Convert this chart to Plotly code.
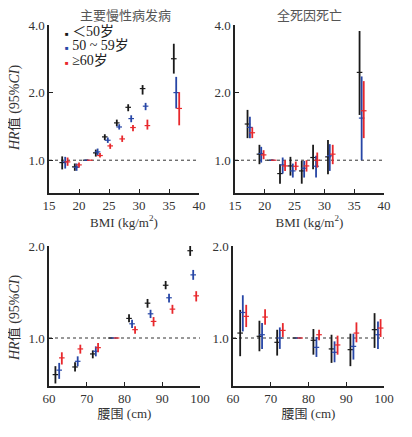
import plotly.graph_objects as go

# page body has an 8px margin -> draw on a 396x421 canvas and shift reference pixels by 8
W, H = 412, 437
OFF = 8
FW, FH = W - 2 * OFF, H - 2 * OFF

# ---------------- data ----------------
groups = ["＜50岁", "50 ~ 59岁", "≥60岁"]
colors = ["#1a1a1a", "#2746a6", "#e8282c"]

# BMI – major chronic disease incidence
cd_bmi_x = [
    [17.2, 19.3, 21.1, 22.8, 24.3, 26.3, 28.2, 30.6, 35.8],
    [17.7, 19.6, 21.3, 23.1, 24.8, 26.7, 28.7, 31.1, 36.2],
    [18.1, 20.0, 21.8, 23.5, 25.2, 27.2, 29.0, 31.4, 36.7],
]
cd_bmi_hr = [
    [0.976, 0.934, 1.0, 1.078, 1.27, 1.466, 1.72, 2.084, 2.83],
    [0.983, 0.930, 1.0, 1.089, 1.227, 1.406, 1.532, 1.74, 2.0],
    [0.983, 0.953, 1.0, 1.049, 1.158, 1.244, 1.398, 1.426, 1.70],
]
cd_bmi_lo = [
    [0.91, 0.897, 1.0, 1.038, 1.227, 1.416, 1.652, 1.96, 2.43],
    [0.918, 0.897, 1.0, 1.052, 1.194, 1.369, 1.476, 1.67, 1.70],
    [0.944, 0.928, 1.0, 1.028, 1.123, 1.206, 1.346, 1.369, 1.43],
]
cd_bmi_hi = [
    [1.04, 0.967, 1.0, 1.115, 1.305, 1.516, 1.775, 2.16, 3.3],
    [1.035, 0.967, 1.0, 1.127, 1.262, 1.446, 1.585, 1.80, 2.35],
    [1.028, 0.976, 1.0, 1.078, 1.186, 1.288, 1.436, 1.516, 2.01],
]

# BMI – all-cause death
dt_bmi_x = [
    [17.1, 19.1, 20.9, 22.55, 24.3, 26.2, 28.1, 30.6, 35.9],
    [17.5, 19.4, 21.2, 23.0, 24.7, 26.6, 28.6, 30.9, 36.25],
    [17.9, 19.8, 21.5, 23.4, 25.2, 27.0, 28.8, 31.4, 36.6],
]
dt_bmi_hr = [
    [1.449, 1.064, 1.0, 0.872, 0.943, 0.896, 1.028, 1.035, 2.46],
    [1.40, 1.071, 1.0, 0.953, 0.896, 0.921, 0.94, 1.046, 1.54],
    [1.325, 1.056, 1.0, 0.943, 0.94, 0.943, 1.0, 1.064, 1.66],
]
dt_bmi_lo = [
    [1.254, 0.96, 1.0, 0.786, 0.854, 0.786, 0.911, 0.866, 1.59],
    [1.254, 0.976, 1.0, 0.872, 0.837, 0.837, 0.837, 0.896, 1.0],
    [1.254, 1.01, 1.0, 0.896, 0.902, 0.89, 0.927, 0.96, 1.254],
]
dt_bmi_hi = [
    [1.675, 1.171, 1.0, 0.96, 1.035, 0.993, 1.171, 1.23, 3.76],
    [1.56, 1.147, 1.0, 1.028, 0.966, 0.993, 1.046, 1.179, 2.36],
    [1.40, 1.108, 1.0, 1.0, 0.986, 1.0, 1.082, 1.171, 2.25],
]

# Waist – major chronic disease incidence
cd_wc_x = [
    [61.7, 66.9, 71.6, 76.4, 81.2, 86.1, 90.9, 97.4],
    [62.7, 67.6, 72.4, 77.1, 82.0, 86.9, 91.8, 98.2],
    [63.4, 68.3, 73.0, 77.9, 82.8, 87.7, 92.7, 99.0],
]
cd_wc_hr = [
    [0.759, 0.804, 0.887, 1.0, 1.159, 1.30, 1.488, 1.93],
    [0.785, 0.839, 0.905, 1.0, 1.113, 1.20, 1.354, 1.609],
    [0.861, 0.921, 0.93, 1.0, 1.065, 1.133, 1.243, 1.374],
]
cd_wc_lo = [
    [0.71, 0.777, 0.858, 1.0, 1.125, 1.256, 1.444, 1.856],
    [0.735, 0.808, 0.871, 1.0, 1.078, 1.162, 1.307, 1.55],
    [0.819, 0.889, 0.898, 1.0, 1.033, 1.092, 1.20, 1.317],
]
cd_wc_hi = [
    [0.809, 0.833, 0.911, 1.0, 1.197, 1.342, 1.537, 2.01],
    [0.829, 0.871, 0.939, 1.0, 1.147, 1.237, 1.395, 1.67],
    [0.898, 0.951, 0.963, 1.0, 1.092, 1.171, 1.284, 1.423],
]

# Waist – all-cause death
dt_wc_x = [
    [61.9, 67.0, 71.7, 76.5, 81.3, 86.1, 91.1, 97.5],
    [62.6, 67.7, 72.4, 77.2, 82.1, 86.9, 91.9, 98.4],
    [63.5, 68.5, 73.2, 77.8, 82.8, 87.7, 92.7, 99.1],
]
dt_wc_hr = [
    [1.038, 1.013, 0.968, 1.0, 0.983, 0.921, 0.916, 1.065],
    [1.212, 1.025, 1.0, 1.0, 0.932, 0.898, 0.939, 1.025],
    [1.177, 1.171, 1.059, 1.0, 1.025, 0.949, 1.038, 1.078],
]
dt_wc_lo = [
    [0.872, 0.905, 0.876, 1.0, 0.882, 0.829, 0.809, 0.928],
    [1.051, 0.921, 0.921, 1.0, 0.867, 0.833, 0.85, 0.921],
    [1.086, 1.105, 1.008, 1.0, 0.983, 0.882, 0.968, 1.008],
]
dt_wc_hi = [
    [1.236, 1.139, 1.064, 1.0, 1.07, 1.025, 1.033, 1.206],
    [1.38, 1.119, 1.083, 1.0, 1.008, 0.975, 1.033, 1.133],
    [1.284, 1.243, 1.119, 1.0, 1.064, 1.018, 1.125, 1.153],
]

panel_titles = ["主要慢性病发病", "全死因死亡"]
bmi_ticks = [15, 20, 25, 30, 35, 40]
wc_ticks = [60, 70, 80, 90, 100]
top_yticks = [1, 2, 4]
bot_yticks = [1, 2]

# ---------------- figure ----------------
SERIF = "Liberation Serif, Times New Roman, Noto Sans CJK SC, serif"
CJK = "Liberation Serif, Noto Sans CJK SC, serif"
AX = "#222222"


def px(p):  # reference x pixel -> paper fraction
    return (p - OFF) / FW


def py(p):  # reference y pixel (from top) -> paper fraction
    return 1 - (p - OFF) / FH


fig = go.Figure()

panels = [
    ("", cd_bmi_x, cd_bmi_hr, cd_bmi_lo, cd_bmi_hi, [15, 40]),
    ("2", dt_bmi_x, dt_bmi_hr, dt_bmi_lo, dt_bmi_hi, [15, 40]),
    ("3", cd_wc_x, cd_wc_hr, cd_wc_lo, cd_wc_hi, [60, 100]),
    ("4", dt_wc_x, dt_wc_hr, dt_wc_lo, dt_wc_hi, [60, 100]),
]

for suf, xs, hrs, los, his, xr in panels:
    fig.add_trace(go.Scatter(
        x=xr, y=[1, 1], mode="lines",
        line=dict(color="#333333", width=1, dash="dot"),
        xaxis="x" + suf, yaxis="y" + suf, showlegend=False, hoverinfo="skip"))
    for g in range(3):
        hr = hrs[g]
        fig.add_trace(go.Scatter(
            x=xs[g], y=hr, mode="markers",
            marker=dict(symbol="line-ew", size=4, color=colors[g],
                        line=dict(color=colors[g], width=1.2)),
            error_y=dict(type="data", symmetric=False,
                         array=[h - v for h, v in zip(his[g], hr)],
                         arrayminus=[v - l for v, l in zip(hr, los[g])],
                         width=0, thickness=1.8, color=colors[g]),
            xaxis="x" + suf, yaxis="y" + suf, showlegend=False, name=groups[g]))


def xaxis(domain, anchor, rng, ticks, title):
    return dict(domain=domain, anchor=anchor, range=rng, tickvals=ticks,
                automargin=False,
                showline=True, linecolor=AX, linewidth=1.5, ticks="inside",
                ticklen=4, tickwidth=1.2, tickcolor=AX, showgrid=False, zeroline=False,
                tickfont=dict(family=SERIF, size=13, color="#333333"),
                title=dict(text=title, font=dict(family=CJK, size=13, color="#333333"),
                           standoff=2))


def yaxis(domain, anchor, rng, ticks):
    return dict(domain=domain, anchor=anchor, type="log", range=rng, tickvals=ticks,
                automargin=False,
                ticktext=[f"{t:.1f}" for t in ticks],
                showline=True, linecolor=AX, linewidth=1.5, ticks="inside",
                ticklen=4, tickwidth=1.2, tickcolor=AX, showgrid=False, zeroline=False,
                tickfont=dict(family=SERIF, size=13, color="#333333"))


xl = [px(49), px(199)]
xr_ = [px(235), px(384)]
xlb = [px(49), px(200)]
xrb = [px(233), px(384)]
yt = [py(193), py(25)]
yb = [py(386), py(246)]

fig.update_layout(
    width=FW, height=FH,
    margin=dict(l=0, r=0, t=0, b=0, autoexpand=False),
    paper_bgcolor="white", plot_bgcolor="white",
    showlegend=False,
    xaxis=xaxis(xl, "y", [15, 40], bmi_ticks, "BMI (kg/m<sup>2</sup>)"),
    yaxis=yaxis(yt, "x", [-0.146, 0.602], top_yticks),
    xaxis2=xaxis(xr_, "y2", [15, 40], bmi_ticks, "BMI (kg/m<sup>2</sup>)"),
    yaxis2=yaxis(yt, "x2", [-0.146, 0.602], top_yticks),
    xaxis3=xaxis(xlb, "y3", [60, 100], wc_ticks, "腰围 (cm)"),
    yaxis3=yaxis(yb, "x3", [-0.157, 0.301], bot_yticks),
    xaxis4=xaxis(xrb, "y4", [60, 100], wc_ticks, "腰围 (cm)"),
    yaxis4=yaxis(yb, "x4", [-0.157, 0.301], bot_yticks),
)

ann = []
ann.append(dict(text=panel_titles[0], x=px(125), y=py(15), xref="paper", yref="paper",
                xanchor="center", yanchor="middle",
                showarrow=False, font=dict(family=CJK, size=13, color="#555555")))
ann.append(dict(text=panel_titles[1], x=px(309), y=py(15), xref="paper", yref="paper",
                xanchor="center", yanchor="middle",
                showarrow=False, font=dict(family=CJK, size=13, color="#555555")))
for yc in (108, 318):
    ann.append(dict(text="<i>HR</i>值 (95%<i>CI</i>)", x=px(15), y=py(yc),
                    xref="paper", yref="paper", textangle=-90, showarrow=False,
                    xanchor="center", yanchor="middle",
                    font=dict(family=CJK, size=14, color="#333333")))
for i, (g, c) in enumerate(zip(groups, colors)):
    yrow = [32, 46, 61][i]
    ann.append(dict(text=f"<span style='color:{c};font-size:6px'>■</span> {g}",
                    x=px(63), y=py(yrow), xref="paper", yref="paper",
                    xanchor="left", yanchor="middle", showarrow=False,
                    font=dict(family=CJK, size=14, color="#222222")))
fig.update_layout(annotations=ann)

fig.write_html("out.html")
